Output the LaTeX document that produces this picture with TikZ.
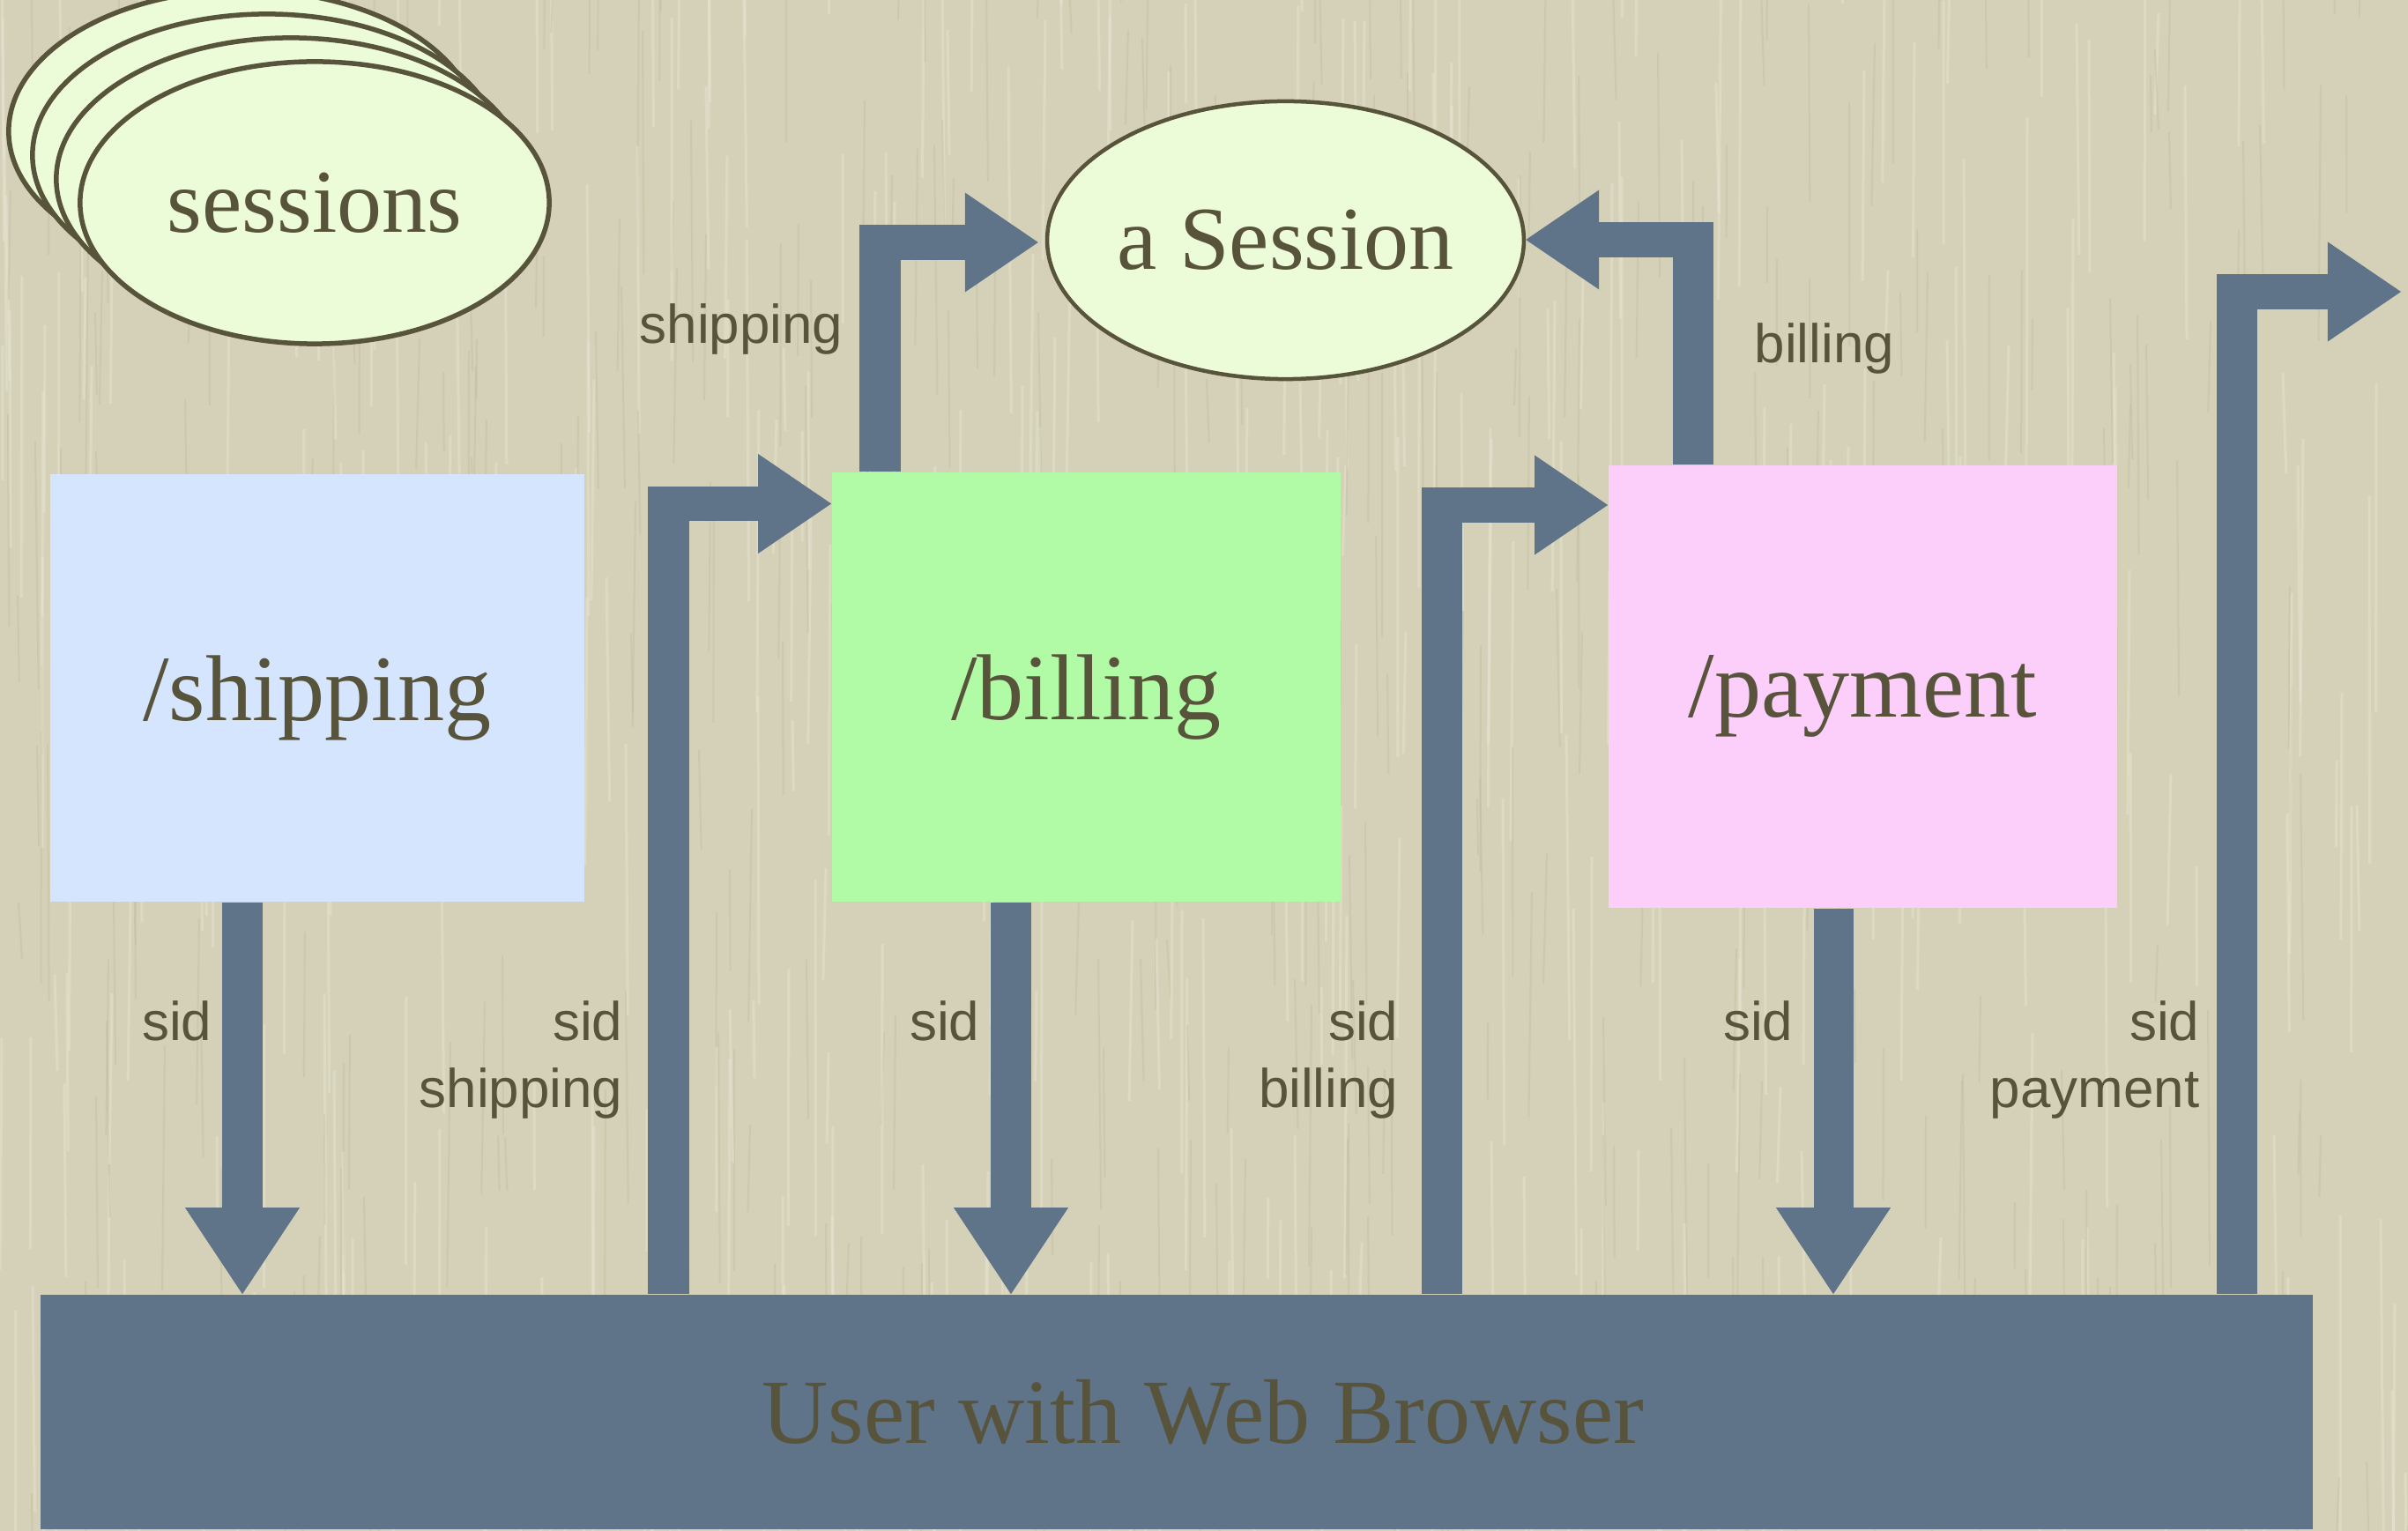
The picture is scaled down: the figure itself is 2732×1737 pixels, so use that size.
\documentclass[tikz,border=0pt]{standalone}
\usepackage{fontspec}
\setmainfont{Liberation Serif}
\newfontfamily\flowfont{Liberation Sans}
\usetikzlibrary{shapes.geometric,arrows.meta}

\definecolor{paper}{RGB}{212,209,184}
\definecolor{paperlight}{RGB}{232,230,212}
\definecolor{paperdark}{RGB}{188,184,158}
\definecolor{slate}{RGB}{95,115,137}
\definecolor{ink}{RGB}{88,84,60}
\definecolor{shipfill}{RGB}{213,229,254}
\definecolor{billfill}{RGB}{178,251,166}
\definecolor{payfill}{RGB}{252,207,251}
\definecolor{sessfill}{RGB}{237,252,216}

\begin{document}
\begin{tikzpicture}[x=0.01cm,y=-0.01cm,
  handler/.style={rectangle, draw=none, fill=#1, inner sep=0pt, text=ink,
    font=\fontsize{30.2pt}{36pt}\selectfont, text depth=0pt},
  store/.style={ellipse, draw=ink, fill=sessfill, inner sep=0pt, text=ink,
    font=\fontsize{29pt}{35pt}\selectfont},
  flowlabel/.style={inner sep=0pt, text=ink, font=\flowfont\fontsize{17.6pt}{21pt}\selectfont},
  shaft/.style={draw=slate, line width=0.46cm},
  arm/.style={draw=slate, line width=0.39cm,
    -{Triangle[length=0.83cm,width=1.13cm,line width=0pt]}},
  downflow/.style={draw=slate, line width=0.45cm,
    -{Triangle[length=0.98cm,width=1.30cm,line width=0pt]}},
  grainlight/.style={draw=paperlight, opacity=0.45, line width=0.03cm},
  graindark/.style={draw=paperdark, opacity=0.35, line width=0.02cm}]

\useasboundingbox (0,0) rectangle (2732,1737);
\clip (0,0) rectangle (2732,1737);
\fill[paper] (0,0) rectangle (2732,1737);

% vertical paper grain
\pgfmathsetseed{11}
\foreach \n in {1,...,450} {
  \pgfmathsetmacro\gx{random(0,2732)}
  \pgfmathsetmacro\gy{random(-200,1737)}
  \pgfmathsetmacro\gl{random(80,420)}
  \pgfmathsetmacro\gw{rnd*8-4}
  \draw[grainlight] (\gx,\gy) -- (\gx+\gw,\gy+\gl);
  \pgfmathsetmacro\hx{random(0,2732)}
  \pgfmathsetmacro\hy{random(-200,1737)}
  \pgfmathsetmacro\hl{random(60,300)}
  \draw[graindark] (\hx,\hy) -- (\hx-\gw,\hy+\hl);
}

% session store: a stack of ellipses
\foreach \k in {3,2,1}
  \node[store, line width=0.055cm, minimum width=5.32cm, minimum height=3.20cm]
    (stack\k) at (357-27*\k, 230-27*\k) {};
\node[store, line width=0.055cm, minimum width=5.32cm, minimum height=3.20cm]
  (sessions) at (357,230) {sessions};

% the single session
\node[store, line width=0.045cm, minimum width=5.29cm, minimum height=3.15cm]
  (session) at (1458.5,272.5) {a Session};

% page handlers
\node[handler=shipfill, minimum width=6.06cm, minimum height=4.85cm]
  (shipping) at (360,780.5) {/shipping};
\node[handler=billfill, minimum width=5.77cm, minimum height=4.87cm]
  (billing) at (1232.5,779.5) {/billing};
\node[handler=payfill, minimum width=5.77cm, minimum height=5.02cm]
  (payment) at (2113.5,779) {/payment};

% the browser
\node[rectangle, fill=slate, inner sep=0pt, minimum width=25.76cm, minimum height=2.66cm,
  label={[text=ink, font=\fontsize{29.6pt}{35pt}\selectfont, xshift=0.3cm]center:User with Web Browser}]
  (browser) at (1335,1602) {};

% responses: handler -> browser
\coordinate (d1) at (275,0);
\coordinate (d2) at (1147,0);
\coordinate (d3) at (2080,0);
\draw[downflow] (shipping.south -| d1) -- (browser.north -| d1);
\draw[downflow] (billing.south -| d2) -- (browser.north -| d2);
\draw[downflow] (payment.south -| d3) -- (browser.north -| d3);

% requests: browser -> next handler
\coordinate (cA) at (758.5,571.5);
\coordinate (cC) at (1636,573);
\coordinate (cE) at (2537.5,331);
\coordinate (exit) at (2724,331);
\draw[shaft] (browser.north -| cA) -- ([yshift=0.195cm]cA);
\draw[arm] ([xshift=-0.23cm]cA) -- (billing.west |- cA);
\draw[shaft] (browser.north -| cC) -- ([yshift=0.195cm]cC);
\draw[arm] ([xshift=-0.23cm]cC) -- (payment.west |- cC);
\draw[shaft] (browser.north -| cE) -- ([yshift=0.195cm]cE);
\draw[arm] ([xshift=-0.23cm]cE) -- (exit);

% handlers storing data in the session
\coordinate (cB) at (998.5,275);
\coordinate (cD) at (1920.5,272);
\draw[shaft] (billing.north -| cB) -- ([yshift=0.195cm]cB);
\draw[arm, shorten >=0.08cm] ([xshift=-0.23cm]cB) -- (session.west |- cB);
\draw[shaft] (payment.north -| cD) -- ([yshift=0.195cm]cD);
\draw[arm] ([xshift=0.23cm]cD) -- (session.east |- cD);

% flow labels
\node[flowlabel, anchor=base east] (tshipping) at (957,390) {shipping};
\node[flowlabel, anchor=base west] (tbilling) at (1990,412) {billing};
\node[flowlabel, anchor=base east] (s1) at (241,1180) {sid};
\node[flowlabel, anchor=base east] (s2) at (707,1180) {sid};
\node[flowlabel, anchor=base east] (s2b) at (707,1256) {shipping};
\node[flowlabel, anchor=base east] (s3) at (1112,1180) {sid};
\node[flowlabel, anchor=base east] (s4) at (1587,1180) {sid};
\node[flowlabel, anchor=base east] (s4b) at (1587,1256) {billing};
\node[flowlabel, anchor=base east] (s5) at (2035,1180) {sid};
\node[flowlabel, anchor=base east] (s6) at (2496,1180) {sid};
\node[flowlabel, anchor=base east] (s6b) at (2496,1256) {payment};
\end{tikzpicture}
\end{document}
